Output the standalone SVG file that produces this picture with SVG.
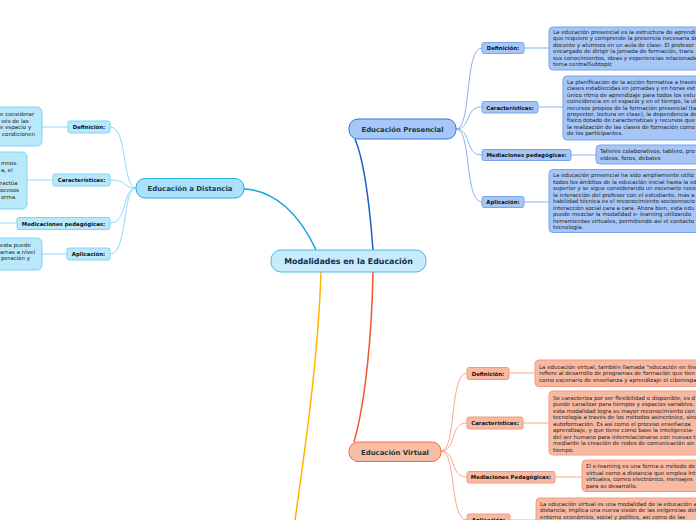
<svg xmlns="http://www.w3.org/2000/svg" width="696" height="520" viewBox="0 0 696 520">
<style>
text{font-family:"DejaVu Sans",Verdana,sans-serif}
.t{font-size:5.5px;fill:#222}
.lb{font-size:5.4px;font-weight:bold;fill:#111;text-anchor:middle}
.mn{font-size:6.9px;font-weight:bold;text-anchor:middle}
.dn{fill:#b9e8fb;stroke:#7fd4f4;stroke-width:1}
.pn{fill:#a5c6f7;stroke:#79a3ec;stroke-width:1}
.vn{fill:#f8b9a3;stroke:#f49a7c;stroke-width:1}
.dc{fill:none;stroke:#8fd8f5;stroke-width:1}
.pc{fill:none;stroke:#8cb2f0;stroke-width:1}
.vc{fill:none;stroke:#f7a98d;stroke-width:1}
</style>
<rect width="696" height="520" fill="#fff"/>
<g id="connectors">
<path d="M316,250 C300,215 275,190 244,189" fill="none" stroke="#12a5e3" stroke-width="1.5"/>
<path d="M373,250 C370,210 364,160 355,139" fill="none" stroke="#1a5ccc" stroke-width="1.5"/>
<path d="M373,272 C372,330 366,400 354,442" fill="none" stroke="#f0562a" stroke-width="1.5"/>
<path d="M321,272 C318,360 305,450 295,520" fill="none" stroke="#ffb400" stroke-width="1.5"/>
<path class="dc" d="M136,188 C122,188 128,127 110,127"/>
<path class="dc" d="M136,188 C122,188 128,180 110,180"/>
<path class="dc" d="M136,188 C122,188 128,223 110,223"/>
<path class="dc" d="M136,188 C122,188 128,254 110,254"/>
<path class="dc" d="M68,127 H42 M53,180 H27 M17,223 H0 M67,254 H42"/>
<path class="pc" d="M456,129 C472,129 464,48 482,48"/>
<path class="pc" d="M456,129 C472,129 464,107 482,107"/>
<path class="pc" d="M456,129 C472,129 464,155 482,155"/>
<path class="pc" d="M456,129 C472,129 464,202 482,202"/>
<path class="pc" d="M524,48 H549 M538,107 H563 M571,155 H596 M524,202 H549"/>
<path class="vc" d="M441,451 C457,451 449,373 467,373"/>
<path class="vc" d="M441,451 C457,451 449,423 467,423"/>
<path class="vc" d="M441,451 C457,451 449,477 467,477"/>
<path class="vc" d="M441,451 C457,451 449,520 467,520"/>
<path class="vc" d="M509,373 H535 M523,423 H549 M555,477 H582 M510,520 H536"/>
</g>
<g id="root">
<rect x="271" y="250" width="155" height="22" rx="10" fill="#c6ecfb" stroke="#52b6e0" stroke-width="1"/>
<text x="348.5" y="264" class="mn" style="font-size:7.9px;fill:#1a2b4f">Modalidades en la Educación</text>
</g>
<g id="distancia">
<rect x="136" y="178.5" width="108" height="19.5" rx="9" fill="#a9e1f8" stroke="#2aa9e0" stroke-width="1"/>
<text x="190" y="191" class="mn" style="fill:#1b3b5b">Educación a Distancia</text>
</g>
<g id="d-def">
<rect x="68" y="121" width="42" height="12" rx="2" class="dn"/>
<text x="89" y="129" class="lb">Definición:</text>
<rect x="-10" y="107" width="52" height="39" rx="5" class="dn"/>
<text class="t"><tspan x="0" y="116">e considerar</tspan><tspan x="1" y="122.5">vés de las</tspan><tspan x="0" y="129">e espacio y</tspan><tspan x="2" y="135.5">condicionen</tspan></text>
</g>
<g id="d-car">
<rect x="53" y="174" width="57" height="12" rx="2" class="dn"/>
<text x="81.5" y="182" class="lb">Características:</text>
<rect x="-10" y="152" width="37" height="57" rx="5" class="dn"/>
<text class="t"><tspan x="1" y="165">mnos.</tspan><tspan x="1" y="172">a, el</tspan><tspan x="0" y="185">ractúa</tspan><tspan x="0" y="192">ocesos</tspan><tspan x="1" y="199">orma</tspan></text>
</g>
<g id="d-med">
<rect x="17" y="217.5" width="93" height="12" rx="2" class="dn"/>
<text x="63.5" y="225.5" class="lb">Medicaciones pedagógicas:</text>
</g>
<g id="d-apl">
<rect x="67" y="248" width="43" height="12" rx="2" class="dn"/>
<text x="88.5" y="256" class="lb">Aplicación:</text>
<rect x="-10" y="238" width="52" height="32" rx="5" class="dn"/>
<text class="t"><tspan x="0" y="247">esta puede</tspan><tspan x="0" y="253.5">amas a nivel</tspan><tspan x="1" y="260">peración y</tspan></text>
</g>
<g id="presencial">
<rect x="349" y="119" width="107" height="20" rx="9" fill="#a5c8f8" stroke="#3a72d6" stroke-width="1"/>
<text x="402.5" y="131.5" class="mn" style="fill:#163a3a">Educación Presencial</text>
</g>
<g id="p-def">
<rect x="482" y="42.5" width="42" height="11" rx="2" class="pn"/>
<text x="503" y="50" class="lb">Definición:</text>
<rect x="549" y="27" width="160" height="43" rx="4" class="pn"/>
<text class="t"><tspan x="553" y="34">La educación presencial es la estructura de aprendi</tspan><tspan x="553" y="40.4">que requiere y comprende la presencia necesaria de</tspan><tspan x="553" y="46.8">docente y alumnos en un aula de clase. El profesor</tspan><tspan x="553" y="53.2">encargado de dirigir la jornada de formación, trans</tspan><tspan x="553" y="59.6">sus conocimientos, ideas y experiencias relacionada</tspan><tspan x="553" y="66">tema centralSubtopic</tspan></text>
</g>
<g id="p-car">
<rect x="482" y="101.5" width="56" height="11.5" rx="2" class="pn"/>
<text x="510" y="109.5" class="lb">Características:</text>
<rect x="563" y="76" width="146" height="64" rx="4" class="pn"/>
<text class="t"><tspan x="567" y="84">La planificación de la acción formativa a través</tspan><tspan x="567" y="90.4">clases establecidas en jornadas y en horas est</tspan><tspan x="567" y="96.8">único ritmo de aprendizaje para todos los estu</tspan><tspan x="567" y="103.2">coincidencia en el espacio y en el tiempo, la uti</tspan><tspan x="567" y="109.6">recursos propios de la formación presencial (ta</tspan><tspan x="567" y="116">proyector, lectura en clase), la dependencia de</tspan><tspan x="567" y="122.4">físico dotado de características y recursos que</tspan><tspan x="567" y="128.8">la realización de las clases de formación como</tspan><tspan x="567" y="135.2">de los participantes.</tspan></text>
</g>
<g id="p-med">
<rect x="482" y="149.5" width="89" height="11" rx="2" class="pn"/>
<text x="526.5" y="157" class="lb">Mediaciones pedagógicas:</text>
<rect x="596" y="145" width="113" height="19" rx="4" class="pn"/>
<text class="t"><tspan x="600" y="153">Talleres colaborativos, tablero, pro</tspan><tspan x="600" y="159.5">videos, foros, debates</tspan></text>
</g>
<g id="p-apl">
<rect x="482" y="196.5" width="42" height="11" rx="2" class="pn"/>
<text x="503" y="204" class="lb">Aplicación:</text>
<rect x="549" y="169.5" width="160" height="63" rx="4" class="pn"/>
<text class="t"><tspan x="553" y="177">La educación presencial ha sido ampliamente utiliz</tspan><tspan x="553" y="183.5">todos los ámbitos de la educación inicial hasta la ed</tspan><tspan x="553" y="190">superior y se sigue considerando un escenario nece</tspan><tspan x="553" y="196.5">la interacción del profesor con el estudiante, más a</tspan><tspan x="553" y="203">habilidad técnica es el reconocimiento socioemocio</tspan><tspan x="553" y="209.5">interacción social cara a cara. Ahora bien, esta edu</tspan><tspan x="553" y="216">puede mezclar la modalidad e- learning utilizando</tspan><tspan x="553" y="222.5">herramientas virtuales, permitiendo así el contacto</tspan><tspan x="553" y="229">tecnología.</tspan></text>
</g>
<g id="virtual">
<rect x="349" y="442" width="92" height="19.5" rx="9" fill="#f8bda8" stroke="#ef6a3f" stroke-width="1"/>
<text x="395" y="454.5" class="mn" style="fill:#1c3a2f">Educación Virtual</text>
</g>
<g id="v-def">
<rect x="467" y="367.5" width="42" height="12" rx="2" class="vn"/>
<text x="488" y="375.5" class="lb">Definición:</text>
<rect x="535" y="360" width="174" height="26.5" rx="4" class="vn"/>
<text class="t"><tspan x="539" y="368.5">La educación virtual, también llamada "educación en líne</tspan><tspan x="539" y="375">refiere al desarrollo de programas de formación que tien</tspan><tspan x="539" y="381.5">como escenario de enseñanza y aprendizaje el ciberespa</tspan></text>
</g>
<g id="v-car">
<rect x="467" y="417" width="56" height="12" rx="2" class="vn"/>
<text x="495" y="425" class="lb">Características:</text>
<rect x="549" y="391" width="160" height="64" rx="4" class="vn"/>
<text class="t"><tspan x="553" y="399.5">Se caracteriza por ser flexibilidad o disponible, es d</tspan><tspan x="553" y="406">puede canalizar para tiempos y espacios variables.</tspan><tspan x="553" y="412.5">esta modalidad logra su mayor reconocimiento con</tspan><tspan x="553" y="419">tecnología a través de los métodos asincrónico, sinc</tspan><tspan x="553" y="425.5">autoformación.  Es así como el proceso enseñanza</tspan><tspan x="553" y="432">aprendizaje, y que tiene como base la inteligencia-</tspan><tspan x="553" y="438.5">del ser humano para interrelacionarse con nuevas t</tspan><tspan x="553" y="445">mediante la creación de redes de comunicación sin</tspan><tspan x="553" y="451.5">tiempo.</tspan></text>
</g>
<g id="v-med">
<rect x="467" y="471.5" width="88" height="11.5" rx="2" class="vn"/>
<text x="511" y="479.3" class="lb">Mediaciones Pedagógicas:</text>
<rect x="582" y="460" width="127" height="31.5" rx="4" class="vn"/>
<text class="t"><tspan x="586" y="468">El e-learning es una forma o método de</tspan><tspan x="586" y="474.6">virtual como a distancia que emplea Int</tspan><tspan x="586" y="481.2">virtuales, correo electrónico, mensajes</tspan><tspan x="586" y="487.8">para su desarrollo.</tspan></text>
</g>
<g id="v-apl">
<rect x="467" y="514" width="43" height="12" rx="2" class="vn"/>
<text x="488.5" y="522" class="lb">Aplicación:</text>
<rect x="536" y="498" width="173" height="35" rx="4" class="vn"/>
<text class="t"><tspan x="540" y="505.5">La educación virtual es una modalidad de la educación a</tspan><tspan x="540" y="512">distancia; implica una nueva visión de las exigencias del</tspan><tspan x="540" y="518.5">entorno económico, social y político, así como de las</tspan></text>
</g>
</svg>
